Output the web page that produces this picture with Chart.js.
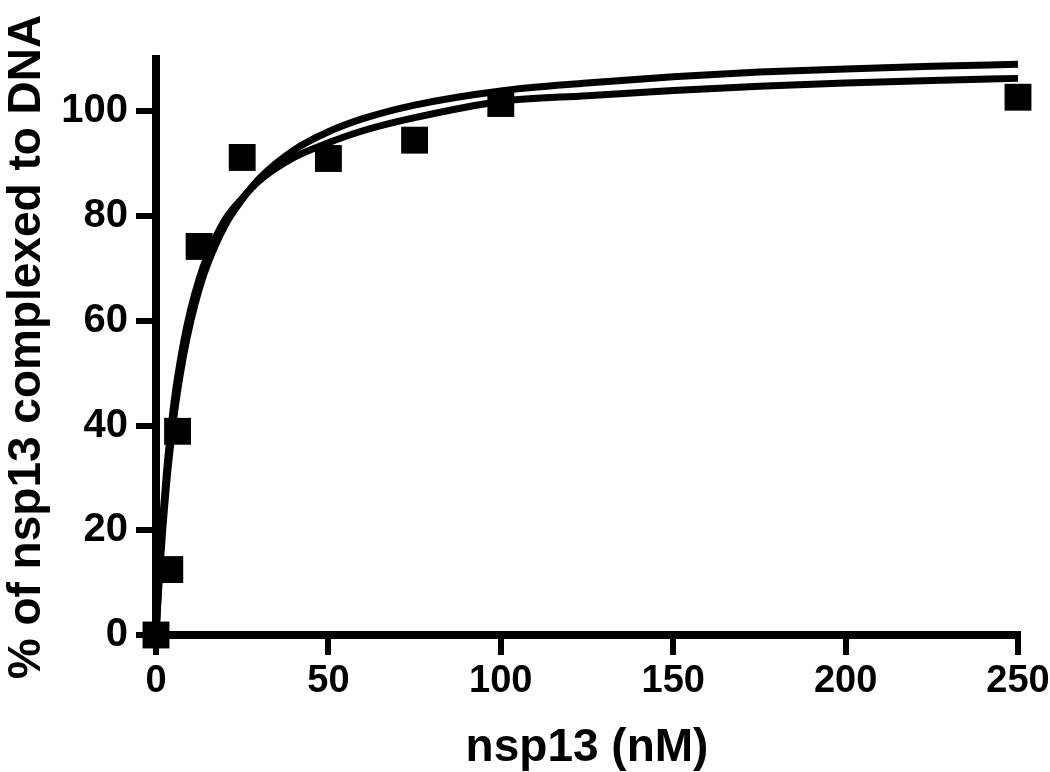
<!DOCTYPE html>
<html>
<head>
<meta charset="utf-8">
<title>nsp13 DNA binding</title>
<script src="https://cdn.jsdelivr.net/npm/chart.js@4.4.1/dist/chart.umd.min.js"></script>
<style>
  html, body { margin: 0; padding: 0; background: #fff; }
  #wrap { width: 1050px; height: 772px; }
</style>
</head>
<body>
<div id="wrap"><canvas id="bindChart" width="1050" height="772"></canvas></div>
<script>
// measured points (nsp13 nM vs % complexed)
const conc     = [0, 4, 6.25, 12.5, 25, 50, 75, 100, 250];
const pctBound = [0, 12.5, 38.9, 74.2, 91.2, 91, 94.5, 101.5, 102.7];

// the two fitted curves
const fitX     = [0, 1, 2, 3, 4, 5, 6, 8, 10, 12.5, 15, 20, 25, 30, 40, 50, 60, 75, 100, 125, 150, 175, 200, 225, 250];
const fitUpper = [0, 11.3, 20.6, 28.4, 34.9, 40.5, 45.4, 53.4, 59.7, 66, 70.9, 78.2, 83.2, 87.2, 92.6, 96.1, 98.6, 101.2, 103.9, 105.4, 106.6, 107.5, 108.1, 108.6, 109.0];
const fitLower = [0, 12.6, 22.6, 30.8, 37.5, 43.2, 48.1, 55.9, 62, 68, 72.6, 79.3, 83.4, 86.8, 91.2, 94, 96.3, 98.8, 101.9, 103.0, 104.0, 104.8, 105.4, 105.9, 106.3];

const xTicks = [0, 50, 100, 150, 200, 250];
const yTicks = [0, 20, 40, 60, 80, 100];

const ink = '#000';
const toXY = (xs, ys) => xs.map((x, i) => ({ x: x, y: ys[i] }));

const curve = (data) => ({
  type: 'line',
  data: data,
  borderColor: ink,
  borderWidth: 7,
  pointRadius: 0,
  fill: false,
  cubicInterpolationMode: 'monotone',
  clip: false,
});

new Chart(document.getElementById('bindChart'), {
  type: 'scatter',
  data: {
    datasets: [
      curve(toXY(fitX, fitUpper)),
      curve(toXY(fitX, fitLower)),
      {
        type: 'scatter',
        data: toXY(conc, pctBound),
        pointStyle: 'rect',
        pointRadius: 19,
        pointHoverRadius: 19,
        backgroundColor: ink,
        borderColor: ink,
        borderWidth: 0,
        clip: false,
      },
    ],
  },
  options: {
    responsive: false,
    animation: false,
    events: [],
    layout: { padding: { top: 59, right: 32, left: 0, bottom: 0 } },
    plugins: { legend: { display: false }, tooltip: { enabled: false } },
    scales: {
      x: {
        type: 'linear',
        min: 0,
        max: 250,
        afterFit: (s) => { s.height = 137; },
        afterBuildTicks: (s) => { s.ticks = xTicks.map((v) => ({ value: v })); },
        border: { display: true, color: ink, width: 8 },
        grid: { drawOnChartArea: false, drawTicks: true, tickLength: 20, tickWidth: 6, tickColor: ink, lineWidth: 6, color: ink },
        ticks: {
          color: ink,
          padding: 0,
          maxRotation: 0,
          autoSkip: false,
          // tall line box pushes the labels down without widening the right padding
          font: { family: "'Liberation Sans', Arial, sans-serif", weight: 'bold', size: 38, lineHeight: 1.42 },
        },
        title: {
          display: true,
          text: 'nsp13 (nM)',
          color: ink,
          padding: { top: 0, bottom: 1 },
          font: { family: "'Liberation Sans', Arial, sans-serif", weight: 'bold', size: 46, lineHeight: 1 },
        },
      },
      y: {
        type: 'linear',
        min: 0,
        max: 110,
        afterFit: (s) => { s.width = 156; },
        afterBuildTicks: (s) => { s.ticks = yTicks.map((v) => ({ value: v })); },
        border: { display: true, color: ink, width: 8 },
        grid: { drawOnChartArea: false, drawTicks: true, tickLength: 20, tickWidth: 6, tickColor: ink, lineWidth: 6, color: ink },
        ticks: {
          color: ink,
          padding: 8,
          autoSkip: false,
          font: { family: "'Liberation Sans', Arial, sans-serif", weight: 'bold', size: 40, lineHeight: 1 },
        },
        title: {
          display: true,
          text: '% of nsp13 complexed to DNA',
          color: ink,
          padding: 0,
          font: { family: "'Liberation Sans', Arial, sans-serif", weight: 'bold', size: 46, lineHeight: 1.2 },
        },
      },
    },
  },
});
</script>
</body>
</html>
